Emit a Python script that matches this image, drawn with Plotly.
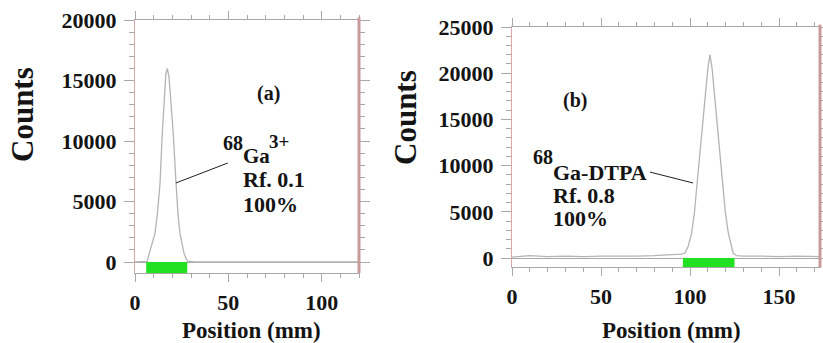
import plotly.graph_objects as go

# ---------------- data ----------------
# Panel (a): 68Ga3+ radio-TLC scan
pos_a = [0, 5, 6.5, 7.6, 9, 10.7, 12, 13.4, 14.6, 15.5, 16.5, 17.3, 18.2, 19.2,
         20.5, 22, 23, 24.1, 25.3, 26.3, 28, 32, 40, 60, 80, 100, 120]
counts_a = [0, 0, 50, 690, 1400, 2340, 4000, 6460, 10600, 13300, 15500, 16000,
            15300, 13300, 10600, 6460, 4000, 2340, 1400, 690, 80, 0, 0, 0, 0, 0, 0]
roi_a = [6, 28]          # integration region (mm)

# Panel (b): 68Ga-DTPA radio-TLC scan
pos_b = [0, 5, 10, 15, 20, 30, 40, 50, 60, 70, 80, 88, 92, 95, 97.2, 99, 100.9,
         102.5, 104, 105.5, 106.9, 108.4, 110, 111.2, 112.4, 114, 115.5, 116.7,
         118, 119.8, 121.5, 123, 124.2, 126.2, 130, 140, 150, 160, 173]
counts_b = [100, 150, 250, 200, 150, 200, 150, 200, 180, 200, 250, 300, 350, 420,
            540, 1300, 2700, 5000, 8150, 11000, 13600, 17200, 20500, 22000, 20500,
            17200, 13600, 11000, 8150, 5000, 2700, 1300, 540, 250, 200, 200, 150,
            200, 150]
roi_b = [96, 125]

xticks_a = [0, 50, 100]
yticks_a = [0, 5000, 10000, 15000, 20000]
xticks_b = [0, 50, 100, 150]
yticks_b = [0, 5000, 10000, 15000, 20000, 25000]

# ---------------- styling ----------------
W, H = 823, 343
FONT = "Liberation Serif"
TXT = "#141414"
CURVE = "#b4b4b4"
PINK = "#d9a9a9"
GRID_GRAY = "#a8a8a8"
GREEN = "#22e022"


def px(x, y):
    return x / W, 1 - y / H


fig = go.Figure()
fig.add_trace(go.Scatter(x=pos_a, y=counts_a, mode="lines", xaxis="x", yaxis="y",
                         line=dict(color=CURVE, width=1.3), showlegend=False))
fig.add_trace(go.Scatter(x=pos_b, y=counts_b, mode="lines", xaxis="x2", yaxis="y2",
                         line=dict(color=CURVE, width=1.3), showlegend=False))


def xaxis(domain, rng, ticks):
    return dict(domain=domain, range=rng, tickvals=ticks,
                ticktext=[str(t) for t in ticks], showgrid=False,
                zeroline=False, showline=True, linecolor=GRID_GRAY, linewidth=1,
                ticks="outside", ticklen=8, tickcolor=GRID_GRAY, tickwidth=1,
                mirror="allticks", automargin=False,
                minor=dict(dtick=10, ticks="outside", ticklen=4, tickcolor=GRID_GRAY),
                tickfont=dict(family=FONT, size=22, color=TXT, weight="bold"),
                ticklabelstandoff=2, fixedrange=True)


def yaxis(domain, rng, ticks, anchor):
    return dict(domain=domain, range=rng, tickvals=ticks,
                ticktext=[str(t) for t in ticks], showgrid=False,
                zeroline=True, zerolinecolor=GRID_GRAY, zerolinewidth=1,
                showline=True, linecolor=PINK, linewidth=1.2,
                ticks="outside", ticklen=10, tickcolor=GRID_GRAY, tickwidth=1,
                mirror="allticks", anchor=anchor, automargin=False,
                minor=dict(dtick=1000, ticks="outside", ticklen=5, tickcolor=GRID_GRAY),
                tickfont=dict(family=FONT, size=22, color=TXT, weight="bold"),
                ticklabelstandoff=3, fixedrange=True)


xa0, ya0 = px(135, 273)
xa1, ya1 = px(359, 20)
xb0, yb0 = px(512, 267)
xb1, yb1 = px(820, 27)

ymin_a = -909
ymin_b = -974

fig.update_layout(
    width=W, height=H, margin=dict(l=0, r=0, t=0, b=0, autoexpand=False),
    paper_bgcolor="white", plot_bgcolor="white", hovermode=False,
    xaxis=xaxis([xa0, xa1], [0, 120], xticks_a) | dict(anchor="y"),
    yaxis=yaxis([ya0, ya1], [ymin_a, 20000], yticks_a, "x"),
    xaxis2=xaxis([xb0, xb1], [0, 173], xticks_b) | dict(anchor="y2"),
    yaxis2=yaxis([yb0, yb1], [ymin_b, 25000], yticks_b, "x2"),
)

# green ROI bars and thicker right frame lines
fig.add_shape(type="rect", xref="x", yref="y", x0=roi_a[0], x1=roi_a[1],
              y0=ymin_a, y1=0, fillcolor=GREEN, line=dict(width=0))
fig.add_shape(type="rect", xref="x2", yref="y2", x0=roi_b[0], x1=roi_b[1],
              y0=ymin_b, y1=0, fillcolor=GREEN, line=dict(width=0))
fig.add_shape(type="line", xref="x domain", yref="y domain", x0=1, x1=1, y0=0, y1=1.01,
              line=dict(color="#c99a9a", width=3))
fig.add_shape(type="line", xref="x2 domain", yref="y2 domain", x0=1, x1=1, y0=0, y1=1.01,
              line=dict(color="#c99a9a", width=3))

# pointer lines
fig.add_shape(type="line", xref="x", yref="y", x0=21.9, y0=6530, x1=49.7, y1=8180,
              line=dict(color="#202020", width=1))
fig.add_shape(type="line", xref="x2", yref="y2", x0=77.5, y0=9300, x1=101.7, y1=8120,
              line=dict(color="#202020", width=1))


def label(text, x, y, size=21, xanchor="center", angle=0):
    xp, yp = px(x, y)
    fig.add_annotation(text=text, x=xp, y=yp, xref="paper", yref="paper",
                       showarrow=False, xanchor=xanchor, yanchor="middle",
                       textangle=angle,
                       font=dict(family=FONT, size=size, color=TXT, weight="bold"))


# axis titles
label("Counts", 22, 115, size=31, angle=-90)
label("Counts", 405, 118, size=31, angle=-90)
label("Position (mm)", 251, 330, size=23)
label("Position (mm)", 671, 330, size=23)

# panel (a) texts
label("(a)", 268, 93, size=20)
label("68", 221, 143, size=20, xanchor="left")
label("Ga", 241, 156, size=21, xanchor="left")
label("3+", 267, 141, size=19, xanchor="left")
label("Rf. 0.1", 241, 180, size=22, xanchor="left")
label("100%", 241, 204, size=22, xanchor="left")

# panel (b) texts
label("(b)", 575, 100, size=20)
label("68", 531, 157, size=20, xanchor="left")
label("Ga-DTPA", 551, 172, size=22, xanchor="left")
label("Rf. 0.8", 551, 195, size=22, xanchor="left")
label("100%", 551, 218, size=22, xanchor="left")

fig.write_html("out.html", config={"displayModeBar": False},
               post_script="document.body.style.margin='0';")
